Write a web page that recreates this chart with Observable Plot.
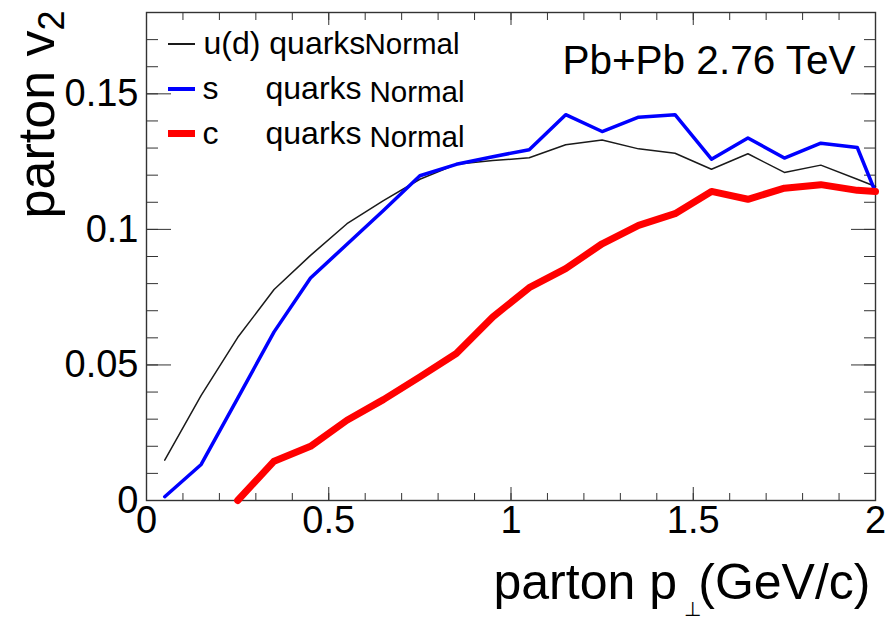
<!DOCTYPE html>
<html>
<head>
<meta charset="utf-8">
<script src="https://cdn.jsdelivr.net/npm/d3@7"></script>
<script src="https://cdn.jsdelivr.net/npm/@observablehq/plot@0.6"></script>
<style>
  html, body { margin: 0; padding: 0; background: #fff; }
  #wrap { position: relative; width: 887px; height: 621px; overflow: hidden; }
  .swatch { position: absolute; left: 168px; width: 27px; }
</style>
</head>
<body>
<div id="wrap"></div>
<script>
// ---- data ----
const ptLight = [0.05, 0.15, 0.25, 0.35, 0.45, 0.55, 0.65, 0.75, 0.85, 0.95, 1.05, 1.15, 1.25, 1.35, 1.45, 1.55, 1.65, 1.75, 1.85, 1.95, 2.0];
const v2Light = [0.0149, 0.0388, 0.0601, 0.0778, 0.0904, 0.1021, 0.1106, 0.1185, 0.1240, 0.1254, 0.1264, 0.1312, 0.1330, 0.1297, 0.1281, 0.1222, 0.1279, 0.1210, 0.1237, 0.1185, 0.1158];
const ptStrange = [0.05, 0.15, 0.25, 0.35, 0.45, 0.55, 0.65, 0.75, 0.85, 0.95, 1.05, 1.15, 1.25, 1.35, 1.45, 1.55, 1.65, 1.75, 1.85, 1.95, 2.0];
const v2Strange = [0.0014, 0.0133, 0.0377, 0.0622, 0.0821, 0.0945, 0.1070, 0.1198, 0.1240, 0.1268, 0.1294, 0.1423, 0.1361, 0.1414, 0.1423, 0.1259, 0.1337, 0.1263, 0.1318, 0.1302, 0.1137];
const ptCharm = [0.25, 0.35, 0.45, 0.55, 0.65, 0.75, 0.85, 0.95, 1.05, 1.15, 1.25, 1.35, 1.45, 1.55, 1.65, 1.75, 1.85, 1.95, 2.0];
const v2Charm = [0.0, 0.0145, 0.0200, 0.0296, 0.0372, 0.0456, 0.0542, 0.0677, 0.0785, 0.0855, 0.0947, 0.1015, 0.1058, 0.1140, 0.1111, 0.1152, 0.1165, 0.1144, 0.1140];

const seriesNames = ["u(d)", "s", "c"];
const legendWord = "quarks";
const legendSub = "Normal";
const systemLabel = "Pb+Pb 2.76 TeV";

const xTicks = [0, 0.5, 1, 1.5, 2];
const xTickLabels = ["0", "0.5", "1", "1.5", "2"];
const xMinorTicks = [0, 0.1, 0.2, 0.3, 0.4, 0.5, 0.6, 0.7, 0.8, 0.9, 1.0, 1.1, 1.2, 1.3, 1.4, 1.5, 1.6, 1.7, 1.8, 1.9, 2.0];
const yTicks = [0, 0.05, 0.1, 0.15];
const yTickLabels = ["0", "0.05", "0.1", "0.15"];
const yMinorTicks = [0, 0.01, 0.02, 0.03, 0.04, 0.05, 0.06, 0.07, 0.08, 0.09, 0.10, 0.11, 0.12, 0.13, 0.14, 0.15, 0.16, 0.17];

const light = ptLight.map((x, i) => ({x, y: v2Light[i]}));
const strange = ptStrange.map((x, i) => ({x, y: v2Strange[i]}));
const charm = ptCharm.map((x, i) => ({x, y: v2Charm[i]}));

const axisCol = "#333";
const font = "'Liberation Sans', Arial, Helvetica, sans-serif";
const txt = (s, o) => Plot.text([s], {text: d => d, fill: "black", lineAnchor: "bottom", ...o});

const chart = Plot.plot({
  width: 887,
  height: 621,
  marginLeft: 146,
  marginRight: 12,
  marginTop: 12,
  marginBottom: 121,
  x: {domain: [0, 2]},
  y: {domain: [0, 0.18]},
  style: {fontFamily: font, background: "white", color: "black", overflow: "visible"},
  marks: [
    // minor & major ticks, all four sides, pointing inward
    Plot.axisY(yMinorTicks, {anchor: "left", tickSize: -12, fill: "none", stroke: axisCol, label: null}),
    Plot.axisY(yTicks, {anchor: "left", tickSize: -25, fill: "none", stroke: axisCol, label: null}),
    Plot.axisY(yMinorTicks, {anchor: "right", tickSize: -12, fill: "none", stroke: axisCol, label: null}),
    Plot.axisY(yTicks, {anchor: "right", tickSize: -25, fill: "none", stroke: axisCol, label: null}),
    Plot.axisX(xMinorTicks, {anchor: "bottom", tickSize: -7, fill: "none", stroke: axisCol, label: null}),
    Plot.axisX(xTicks, {anchor: "bottom", tickSize: -13, fill: "none", stroke: axisCol, label: null}),
    Plot.axisX(xMinorTicks, {anchor: "top", tickSize: -7, fill: "none", stroke: axisCol, label: null}),
    Plot.axisX(xTicks, {anchor: "top", tickSize: -12, fill: "none", stroke: axisCol, label: null}),
    // tick labels
    Plot.axisY(yTicks, {anchor: "left", tickSize: 0, tickPadding: 8, fontSize: 38, label: null,
      tickFormat: d => yTickLabels[yTicks.indexOf(d)]}),
    Plot.axisX(xTicks, {anchor: "bottom", tickSize: 0, tickPadding: 6, fontSize: 38, label: null,
      tickFormat: d => xTickLabels[xTicks.indexOf(d)]}),
    Plot.frame({stroke: axisCol, strokeWidth: 1.4}),
    // data
    Plot.line(light, {x: "x", y: "y", stroke: "#1a1a1a", strokeWidth: 1.5}),
    Plot.line(strange, {x: "x", y: "y", stroke: "#0000ff", strokeWidth: 3.5}),
    Plot.line(charm, {x: "x", y: "y", stroke: "#ff0000", strokeWidth: 7}),
    // axis titles
    txt("parton v", {frameAnchor: "top-left", rotate: -90, textAnchor: "end", dx: -93, dy: 18, fontSize: 52}),
    txt("2", {frameAnchor: "top-left", rotate: -90, textAnchor: "end", dx: -83, dy: -2, fontSize: 36}),
    txt("parton p", {frameAnchor: "bottom-left", textAnchor: "start", dx: 347, dy: 98, fontSize: 50}),
    txt("\u22A5", {frameAnchor: "bottom-left", textAnchor: "start", dx: 537, dy: 115, fontSize: 20}),
    txt("(GeV/c)", {frameAnchor: "bottom-right", textAnchor: "end", dx: -5, dy: 98, fontSize: 50}),
    // annotation
    txt(systemLabel, {frameAnchor: "top-right", textAnchor: "end", dx: -20, dy: 61, fontSize: 40.5}),
    // legend labels
    txt(seriesNames[0] + " " + legendWord, {frameAnchor: "top-left", textAnchor: "start", dx: 57, dy: 41, fontSize: 32}),
    txt(legendSub, {frameAnchor: "top-left", textAnchor: "start", dx: 218, dy: 41, fontSize: 29.5}),
    txt(seriesNames[1], {frameAnchor: "top-left", textAnchor: "start", dx: 56, dy: 86, fontSize: 32}),
    txt(legendWord, {frameAnchor: "top-left", textAnchor: "start", dx: 119, dy: 86, fontSize: 32}),
    txt(legendSub, {frameAnchor: "top-left", textAnchor: "start", dx: 223, dy: 89, fontSize: 29.5}),
    txt(seriesNames[2], {frameAnchor: "top-left", textAnchor: "start", dx: 56, dy: 131, fontSize: 32}),
    txt(legendWord, {frameAnchor: "top-left", textAnchor: "start", dx: 119, dy: 131, fontSize: 32}),
    txt(legendSub, {frameAnchor: "top-left", textAnchor: "start", dx: 223, dy: 134, fontSize: 29.5})
  ]
});

const wrap = document.getElementById("wrap");
wrap.appendChild(chart);

// legend line samples
[["#1a1a1a", 44, 1.5], ["#0000ff", 89, 4], ["#ff0000", 133, 7]].forEach(([c, cy, h]) => {
  const s = document.createElement("div");
  s.className = "swatch";
  s.style.top = (cy - h / 2) + "px";
  s.style.height = h + "px";
  s.style.background = c;
  wrap.appendChild(s);
});
</script>
</body>
</html>
